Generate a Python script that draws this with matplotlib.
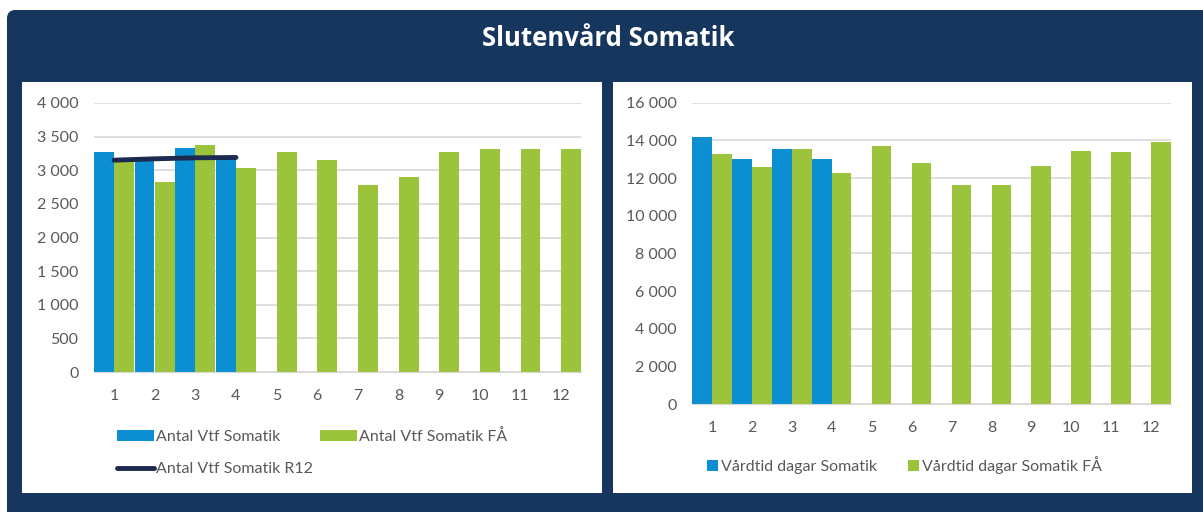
import numpy as np
import matplotlib.pyplot as plt
from matplotlib.patches import Rectangle, FancyBboxPatch
from matplotlib.ticker import FuncFormatter

plt.rcParams['font.family'] = ['Lato', 'DejaVu Sans']

# data
months = list(range(1, 13))
antal_vtf = [3270, 3160, 3330, 3210]
antal_vtf_fa = [3130, 2830, 3370, 3040, 3270, 3145, 2780, 2900, 3270, 3310, 3310, 3310]
antal_vtf_r12 = [3150, 3170, 3185, 3190]
vardtid = [14160, 13030, 13560, 13030]
vardtid_fa = [13260, 12600, 13560, 12250, 13720, 12820, 11610, 11610, 12660, 13420, 13360, 13910]

navy = '#17365d'
blue = '#0b8fd2'
green = '#9cc33c'
line_col = '#1b2a4e'
grid_col = '#d9d9d9'
text_col = '#595959'

W, H = 1203, 512
fig = plt.figure(figsize=(W / 100, H / 100), dpi=100, facecolor='white')

# navy frame with rounded corners
fig.patches.append(FancyBboxPatch((7 / W, -0.05), 1210 / W, 1.05 - 10 / H,
                                  boxstyle='round,pad=0,rounding_size=0.007',
                                  transform=fig.transFigure, facecolor=navy,
                                  edgecolor='none', zorder=-20, mutation_aspect=W / H))
# white panels
fig.patches.append(Rectangle((22 / W, 1 - 493 / H), 580 / W, 411 / H, transform=fig.transFigure,
                             facecolor='white', edgecolor='none', zorder=-10))
fig.patches.append(Rectangle((613 / W, 1 - 493 / H), 579 / W, 411 / H, transform=fig.transFigure,
                             facecolor='white', edgecolor='none', zorder=-10))

fig.text(608 / W, 1 - 39 / H, 'Slutenvård Somatik', color='white', fontsize=18.5,
         fontweight='bold', family=['Open Sans', 'DejaVu Sans'], ha='center', va='center')

fmt = FuncFormatter(lambda v, p: f'{int(v):,}'.replace(',', ' '))


def style(ax, ymax, step):
    ax.set_xlim(0.5, 12.5)
    ax.set_ylim(0, ymax)
    ax.set_yticks(np.arange(0, ymax + 1, step))
    ax.yaxis.set_major_formatter(fmt)
    ax.set_xticks(months)
    ax.grid(axis='y', color=grid_col, linewidth=1.2)
    ax.set_axisbelow(True)
    for s in ['top', 'right', 'left']:
        ax.spines[s].set_visible(False)
    ax.spines['bottom'].set_color(grid_col)
    ax.tick_params(length=0, colors=text_col, labelsize=11.5)
    ax.tick_params(axis='x', pad=12)
    ax.tick_params(axis='y', pad=11)
    ax.set_facecolor('white')


bw = 0.49
m = np.array(months)

# left chart
ax1 = fig.add_axes([93.7 / W, 140 / H, (581.3 - 93.7) / W, 269 / H])
b1 = ax1.bar(m[:len(antal_vtf)] - 0.25, antal_vtf, bw, color=blue)
b2 = ax1.bar(m + 0.25, antal_vtf_fa, bw, color=green)
l1, = ax1.plot(m[:len(antal_vtf_r12)], antal_vtf_r12, color=line_col, linewidth=3.5,
               solid_capstyle='round')
style(ax1, 4000, 500)
ax1.legend([b1, l1, b2], ['Antal Vtf Somatik', 'Antal Vtf Somatik R12', 'Antal Vtf Somatik FÅ'],
           ncol=2, loc='upper left', bbox_to_anchor=(109 / W, 1 - 421 / H),
           bbox_transform=fig.transFigure, frameon=False, fontsize=11.5,
           labelcolor=text_col, handlelength=2.3, handleheight=0.65, handletextpad=0.15,
           columnspacing=0.45, labelspacing=1.15, borderpad=0)

# right chart
ax2 = fig.add_axes([692 / W, 108 / H, (1171 - 692) / W, (404 - 102.7) / H])
b3 = ax2.bar(m[:len(vardtid)] - 0.25, vardtid, bw, color=blue)
b4 = ax2.bar(m + 0.25, vardtid_fa, bw, color=green)
style(ax2, 16000, 2000)
ax2.legend([b3, b4], ['Vårdtid dagar Somatik', 'Vårdtid dagar Somatik FÅ'],
           ncol=2, loc='upper left', bbox_to_anchor=(699 / W, 1 - 448 / H),
           bbox_transform=fig.transFigure, frameon=False, fontsize=11.5,
           labelcolor=text_col, handlelength=0.7, handleheight=0.7, handletextpad=0.2,
           columnspacing=1.9, borderpad=0)

fig.savefig('out.png', dpi=100, facecolor='white')
